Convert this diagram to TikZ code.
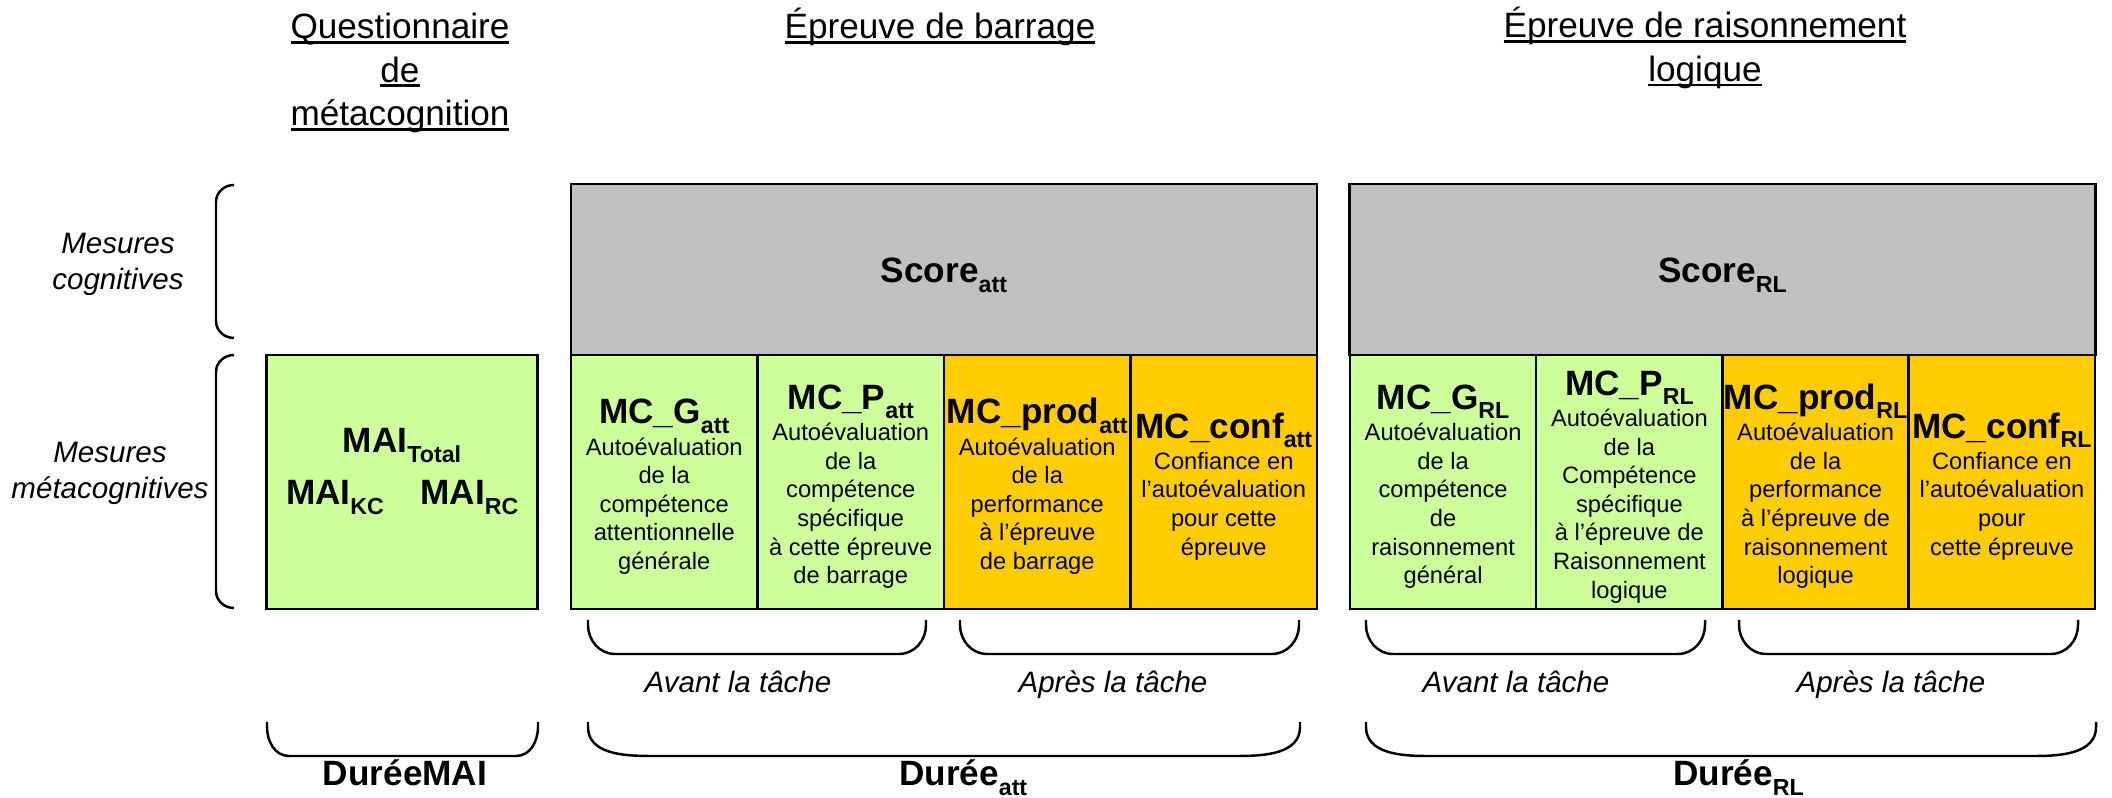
\documentclass[tikz,border=0pt]{standalone}
\usepackage{fontspec}
\setmainfont{Liberation Sans}
\definecolor{lgreen}{RGB}{204,255,153}
\definecolor{lorange}{RGB}{255,204,0}
\definecolor{lgray}{RGB}{192,192,192}
\newsavebox\ulbox
\newcommand\ulin[1]{\sbox\ulbox{#1}\rlap{\rule[-1.5pt]{\wd\ulbox}{0.85pt}}\usebox\ulbox}
\newcommand\sub[1]{\raisebox{-2.6pt}{\fontsize{6.6}{6.6}\selectfont #1}}
\newcommand\hd[1]{{\fontsize{10}{12}\selectfont\bfseries\rule{0pt}{9.8pt}#1}}
\newcommand\sclabel[1]{\raisebox{-3.84pt}[0pt][0pt]{#1}}
\newcommand\ubr[5]{\draw[brc] ({#1},{#3}) -- ({#1},{#3+5}) to[out=-90,in=180] ({#1+#5},{#4}) -- ({#2-#5},{#4}) to[out=0,in=-90] ({#2},{#3+5}) -- ({#2},{#3});}
\tikzset{
  box/.style={draw=black, line width=0.7pt, minimum width=1.865cm, minimum height=2.54cm, inner sep=0pt, align=center, font=\fontsize{6.74}{8.14}\selectfont},
  grn/.style={box, fill=lgreen},
  org/.style={box, fill=lorange},
  scorebox/.style={draw=black, line width=0.7pt, fill=lgray, minimum width=7.455cm, minimum height=1.71cm, inner sep=0pt, font=\fontsize{10}{12}\selectfont\bfseries},
  brc/.style={line width=0.7pt},
  ital/.style={font=\fontsize{8.4}{10.2}\selectfont\itshape, align=center, inner sep=0pt},
  titl/.style={font=\fontsize{10}{12.3}\selectfont, align=center, inner sep=0pt},
  bld/.style={font=\fontsize{10}{12}\selectfont\bfseries, inner sep=0pt}
}
\begin{document}
\begin{tikzpicture}[x=0.01cm, y=-0.01cm]
\useasboundingbox (0,0) rectangle (2112,798);
% titles
\node[titl] (t1) at (400,73) {\ulin{Questionnaire}\\\ulin{de}\\\ulin{métacognition}};
\node[titl, anchor=base] (t2) at (940,39) {\ulin{Épreuve de barrage}};
\node[titl] (t3) at (1705,48) {\ulin{Épreuve de raisonnement}\\\ulin{logique}};
% row labels
\node[ital] (mc) at (118,264) {Mesures\\cognitives};
\node[ital] (mm) at (110,473) {Mesures\\métacognitives};
\draw[brc] (234,185) to[out=180,in=90] (216,202) -- (216,321) to[out=-90,in=180] (234,338);
\draw[brc] (234,355) to[out=180,in=90] (216,372) -- (216,591) to[out=-90,in=180] (234,608);
% score boxes
\node[scorebox] (sa) at (944,269.5) {\sclabel{Score\sub{att}}};
\node[scorebox] (sr) at (1722.5,269.5) {\sclabel{Score\sub{RL}}};
% MAI
\node[box, fill=lgreen, minimum width=2.71cm] (mai) at (402,482) {};
\node[bld, anchor=base] (mt) at (402,453) {MAI\sub{Total}};
\node[bld, anchor=base] (mk) at (335,505) {MAI\sub{KC}};
\node[bld, anchor=base] (mr) at (469.5,505) {MAI\sub{RC}};
% attention boxes
\node[grn] (ga) at (664.25,482) {\hd{MC\_G\sub{att}}\\[0.7pt]Autoévaluation\\de la\\compétence\\attentionnelle\\générale};
\node[grn] (pa) at (850.75,482) {\hd{MC\_P\sub{att}}\\[0.7pt]Autoévaluation\\de la\\compétence\\spécifique\\à cette épreuve\\de barrage};
\node[org] (da) at (1037.25,482) {\hd{MC\_prod\sub{att}}\\[0.7pt]Autoévaluation\\de la\\performance\\à l’épreuve\\de barrage};
\node[org] (ca) at (1223.75,482) {\hd{MC\_conf\sub{att}}\\[0.7pt]Confiance en\\l’autoévaluation\\pour cette\\épreuve};
% RL boxes
\node[grn] (gr) at (1443.1,482) {\hd{MC\_G\sub{RL}}\\[0.7pt]Autoévaluation\\de la\\compétence\\de\\raisonnement\\général};
\node[grn] (pr) at (1629.4,482) {\hd{MC\_P\sub{RL}}\\[0.7pt]Autoévaluation\\de la\\Compétence\\spécifique\\à l’épreuve de\\Raisonnement\\logique};
\node[org] (dr) at (1815.6,482) {\hd{MC\_prod\sub{RL}}\\[0.7pt]Autoévaluation\\de la\\performance\\à l’épreuve de\\raisonnement\\logique};
\node[org] (cr) at (2001.9,482) {\hd{MC\_conf\sub{RL}}\\[0.7pt]Confiance en\\l’autoévaluation\\pour\\cette épreuve};
% braces before/after
\ubr{588}{926}{620}{654}{27}
\ubr{960}{1299}{620}{654}{27}
\ubr{1366}{1705}{620}{654}{27}
\ubr{1739}{2078}{620}{654}{27}
\node[ital, anchor=base] (av1) at (738,693) {Avant la tâche};
\node[ital, anchor=base] (ap1) at (1113,693) {Après la tâche};
\node[ital, anchor=base] (av2) at (1516,693) {Avant la tâche};
\node[ital, anchor=base] (ap2) at (1891,693) {Après la tâche};
% duration braces
\ubr{267}{538}{722}{756}{22}
\ubr{588}{1300}{722}{756}{62}
\ubr{1366}{2096}{722}{756}{60}
\node[bld, anchor=base] (d0) at (405,786) {DuréeMAI};
\node[bld, anchor=base] (d1) at (949,786) {Durée\rlap{\sub{att}}};
\node[bld, anchor=base] (d2) at (1723,786) {Durée\rlap{\sub{RL}}};
\end{tikzpicture}
\end{document}
